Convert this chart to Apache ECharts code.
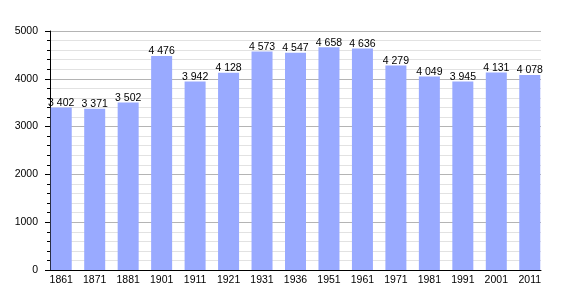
<!DOCTYPE html>
<html>
<head>
<meta charset="utf-8">
<script src="https://cdn.jsdelivr.net/npm/echarts@6/dist/echarts.min.js"></script>
<style>html,body{margin:0;padding:0;background:#fff}#c{width:570px;height:300px}</style>
</head>
<body>
<div id="c"></div>
<script>
const years = ['1861','1871','1881','1901','1911','1921','1931','1936','1951','1961','1971','1981','1991','2001','2011'];
const population = [3402,3371,3502,4476,3942,4128,4573,4547,4658,4636,4279,4049,3945,4131,4078];
const yTicks = [0,1000,2000,3000,4000,5000];

const FONT = 'Liberation Sans, Arial, sans-serif';
function fmt(v){ const s=String(v); return s.length>3 ? s.slice(0,s.length-3)+' '+s.slice(-3) : s; }

const chart = echarts.init(document.getElementById('c'), null, {renderer:'canvas'});
chart.setOption({
  animation:false,
  backgroundColor:'#fff',
  grid:[
    {left:50, right:29, top:31, bottom:30},
    {left:44.5, right:23.5, top:31, bottom:30}
  ],
  xAxis:[
    {gridIndex:0, type:'value', min:0, max:1, axisLine:{show:true,lineStyle:{color:'#000',width:1}},
     axisTick:{show:false}, axisLabel:{show:false}, splitLine:{show:false}},
    {gridIndex:1, type:'category', data:years, boundaryGap:true,
     axisLine:{show:false}, axisTick:{show:false},
     axisLabel:{color:'#000', fontSize:10.5, fontFamily:FONT, margin:5}}
  ],
  yAxis:[
    {gridIndex:0, type:'value', min:yTicks[0], max:yTicks[yTicks.length-1], interval:1000,
     axisLine:{show:true,lineStyle:{color:'#000',width:1}},
     axisTick:{show:true,length:5,lineStyle:{color:'#000'}},
     minorTick:{show:true,splitNumber:5,length:3,lineStyle:{color:'#000'}},
     axisLabel:{color:'#000',fontSize:10.5,fontFamily:FONT,margin:12,formatter:v=>String(v)},
     splitLine:{show:true,lineStyle:{color:'#b4b4b4',width:1}},
     minorSplitLine:{show:true,lineStyle:{color:'#e2e2e2',width:1}}},
    {gridIndex:1, type:'value', min:yTicks[0], max:yTicks[yTicks.length-1], show:false, splitLine:{show:false}}
  ],
  series:[{
    type:'bar', xAxisIndex:1, yAxisIndex:1, data:population, barWidth:21,
    itemStyle:{color:'#99aaff'},
    label:{show:true, position:'top', distance:-1, color:'#000', fontSize:10.5, fontFamily:FONT,
      formatter:p=>fmt(p.value)}
  }]
});
</script>
</body>
</html>
